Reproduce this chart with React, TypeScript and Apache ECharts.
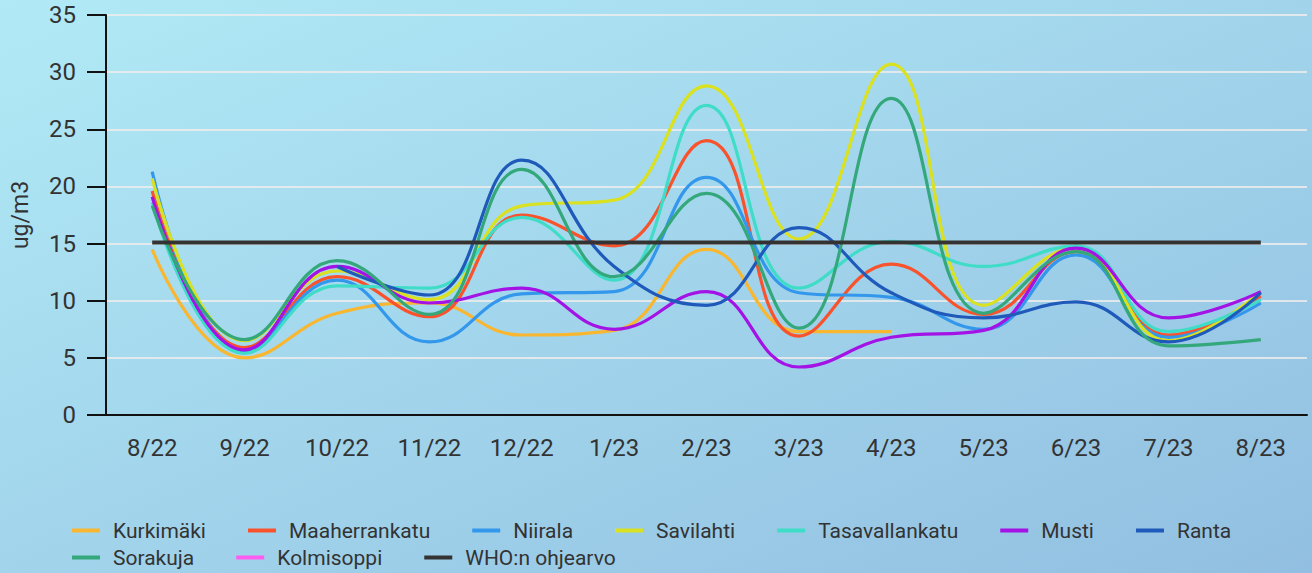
import React, { useEffect, useRef } from "react";
import * as echarts from "echarts";

const categories = ["8/22", "9/22", "10/22", "11/22", "12/22", "1/23", "2/23", "3/23", "4/23", "5/23", "6/23", "7/23", "8/23"];

const kurkimaki = [14.5, 5.0, 8.9, 9.8, 7.0, 7.4, 14.5, 7.3, 7.3, null, null, null, null];
const maaherrankatu = [19.6, 5.9, 12.1, 8.6, 17.5, 14.8, 24.0, 6.9, 13.2, 8.8, 14.3, 7.0, 10.4];
const niirala = [21.3, 5.6, 11.8, 6.4, 10.6, 10.8, 20.8, 10.7, 10.3, 7.5, 14.0, 6.8, 9.8];
const savilahti = [20.7, 6.5, 12.6, 10.1, 18.3, 18.8, 28.8, 15.4, 30.7, 9.6, 14.7, 6.5, 10.8];
const tasavallankatu = [18.6, 5.4, 11.3, 11.1, 17.3, 11.8, 27.1, 11.1, 15.2, 13.0, 14.8, 7.3, 10.1];
const musti = [19.1, 5.7, 13.0, 9.8, 11.1, 7.5, 10.8, 4.2, 6.8, 7.4, 14.6, 8.5, 10.8];
const ranta = [null, null, 13.0, 10.5, 22.3, 13.0, 9.6, 16.4, 10.7, 8.5, 9.9, 6.4, 10.7];
const sorakuja = [18.3, 6.6, 13.5, 8.8, 21.5, 12.1, 19.4, 7.6, 27.7, 8.9, 14.3, 6.05, 6.6];
const kolmisoppi: (number | null)[] = [null, null, null, null, null, null, null, null, null, null, null, null, null];
const who = [15.1, 15.1, 15.1, 15.1, 15.1, 15.1, 15.1, 15.1, 15.1, 15.1, 15.1, 15.1, 15.1];

const yTicks = { min: 0, max: 35, interval: 5 };

const seriesDefs = [
  { name: "Kurkimäki", data: kurkimaki, color: "#f9b630" },
  { name: "Maaherrankatu", data: maaherrankatu, color: "#f8532d" },
  { name: "Niirala", data: niirala, color: "#3397ec" },
  { name: "Savilahti", data: savilahti, color: "#d9e120" },
  { name: "Tasavallankatu", data: tasavallankatu, color: "#3fdcc7" },
  { name: "Musti", data: musti, color: "#a313e6" },
  { name: "Ranta", data: ranta, color: "#1f5abb" },
  { name: "Sorakuja", data: sorakuja, color: "#34a87b" },
  { name: "Kolmisoppi", data: kolmisoppi, color: "#ff5cf0" },
  { name: "WHO:n ohjearvo", data: who, color: "#333333" },
];

const FONT = "Roboto, 'Noto Sans', sans-serif";
const TEXT = "#333333";

export default function App() {
  const ref = useRef<HTMLDivElement>(null);
  useEffect(() => {
    if (!ref.current) return;
    const chart = echarts.init(ref.current, null, { renderer: "svg" });
    const legendCommon = {
      left: 72,
      padding: 0,
      orient: "horizontal",
      icon: "rect",
      itemWidth: 28,
      itemHeight: 4,
      itemGap: 42,
      textStyle: { fontFamily: FONT, fontSize: 21, color: TEXT, padding: [0, 0, 0, 8] },
    };
    chart.setOption({
      animation: false,
      backgroundColor: new echarts.graphic.LinearGradient(0, 0, 1, 1, [
        { offset: 0, color: "#b1eaf6" },
        { offset: 1, color: "#92bfe1" },
      ]),
      textStyle: { fontFamily: FONT },
      grid: { left: 106, right: 5, top: 15, bottom: 158 },
      legend: [
        { ...legendCommon, top: 520, data: seriesDefs.slice(0, 7).map((s) => s.name) },
        { ...legendCommon, top: 547, data: seriesDefs.slice(7).map((s) => s.name) },
      ],
      xAxis: {
        type: "category",
        data: categories,
        boundaryGap: true,
        axisLine: { lineStyle: { color: "#111", width: 2 } },
        axisTick: { alignWithLabel: true, length: 18, lineStyle: { color: "#111", width: 2 } },
        axisLabel: { fontFamily: FONT, fontSize: 24, color: TEXT, margin: 21 },
        splitLine: { show: false },
      },
      yAxis: {
        type: "value",
        min: yTicks.min,
        max: yTicks.max,
        interval: yTicks.interval,
        name: "ug/m3",
        nameLocation: "middle",
        nameGap: 74,
        nameTextStyle: { fontFamily: FONT, fontSize: 23, color: TEXT },
        axisLine: { show: true, lineStyle: { color: "#111", width: 2 } },
        axisTick: { show: true, length: 19, lineStyle: { color: "#111", width: 2 } },
        axisLabel: { fontFamily: FONT, fontSize: 24, color: TEXT, margin: 30 },
        splitLine: { show: true, lineStyle: { color: "rgba(236,236,236,0.85)", width: 2 } },
      },
      series: seriesDefs.map((s) => ({
        name: s.name,
        type: "line",
        data: s.data,
        smooth: s.name === "WHO:n ohjearvo" ? false : 0.45,
        showSymbol: false,
        symbol: "none",
        connectNulls: false,
        itemStyle: { color: s.color },
        lineStyle: { color: s.color, width: s.name === "WHO:n ohjearvo" ? 4 : 3.2 },
        z: s.name === "WHO:n ohjearvo" ? 3 : 2,
      })),
    });
    return () => chart.dispose();
  }, []);
  return (
    <div
      ref={ref}
      style={{ position: "fixed", left: 0, top: 0, width: 1312, height: 573 }}
    />
  );
}
